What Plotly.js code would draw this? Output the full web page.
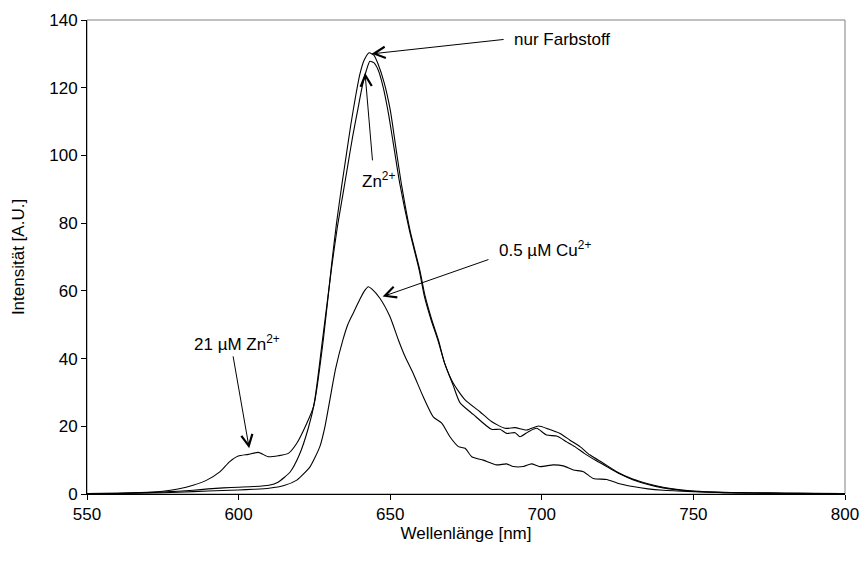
<!DOCTYPE html>
<html>
<head>
<meta charset="utf-8">
<script src="https://cdn.plot.ly/plotly-3.0.1.min.js"></script>
<style>html,body{margin:0;padding:0;background:#fff;}#chart{width:865px;height:565px;}</style>
</head>
<body>
<div id="chart"></div>
<script>
// nur Farbstoff
const wlFarb = [550,560,570,575,580,585,590,595,600,605,610,613,617,620,623,625.2,628,630.7,632.3,634,635.5,637,638.5,640,641.5,643.1,644.6,646,648,650,652,653.8,656.5,659.8,661.5,663.7,665.9,668,670.8,674.7,679.6,683.4,687.9,691.2,695,698.9,702.2,706,709.3,712.6,715.9,720.3,724.7,730,735,740,745,750,760,770,780,790,800];
const intFarb = [0.1,0.2,0.4,0.6,0.8,1.1,1.5,1.8,2.0,2.2,2.6,3.5,6.5,11.5,19.5,27.8,46,68,80,91,100,109,117,124,128.3,130.3,129.6,127,121.5,113.5,101.5,91,78,66,58.5,51.5,45.5,38.5,32.7,27.8,24.3,21.4,19.4,19.6,18.9,20.1,19.2,17.9,15.9,14.0,11.5,9.1,6.6,4.4,3.0,2.0,1.3,0.9,0.5,0.3,0.2,0.15,0.1];

// 21 µM Zn2+
const wlZn = [550,560,570,575,580,585,589.5,593.9,597,599.9,603.2,606.5,609.8,613.1,616.4,619.2,622.5,624.7,627.6,630.7,632.6,634.5,636,637.6,639.2,640.7,642.1,643.3,644.6,646,647.6,649.4,651.3,653.2,656.3,659.6,661.3,663.5,665.7,668,670.8,673,677.4,683.4,686.2,688.4,691.2,692.8,695.6,698.3,701.6,704.9,708.2,710.9,714,718,722,726,730,735,740,745,750,760,770,780,800];
const intZn = [0.1,0.2,0.5,0.8,1.5,2.6,4.1,6.6,9.5,11.2,11.7,12.3,11.0,11.3,12.0,15.0,20.9,25.8,45,67,79,89,97,105.5,113,120,125,127.8,127.4,125.3,120.5,112.5,102,91.5,78,66,58.3,51.4,45.5,38.5,32,27,23.5,19.1,19.1,17.9,18.1,16.9,18.4,19.4,17.4,17.1,15.4,14.0,12.0,9.8,7.8,5.8,4.2,2.8,1.8,1.2,0.8,0.4,0.3,0.2,0.1];

// 0.5 µM Cu2+
const wlCu = [550,560,570,580,590,600,605,610,615,619.2,621.5,623.6,626.8,628.5,630.1,632,634.4,636,637.8,640,641.5,642.8,644,646.6,649.9,652.7,654.9,657.6,660.9,664.2,667,669.7,672.5,674.7,676.9,680.7,685.1,688.4,690.6,693.9,696.6,699.4,703.8,707.1,710.4,713.7,717,721.4,725,730,735,740,750,760,780,800];
const intCu = [0.1,0.15,0.3,0.5,0.9,1.2,1.4,1.7,2.5,4.1,6.0,8.1,14.0,20,27.8,37,45.5,50,53.4,57.5,60,61.2,60.5,57.8,52.4,45.5,40.6,35.6,28.7,22.8,20.9,16.9,14.0,13.5,11.0,10.0,8.6,8.9,8.1,8.1,8.9,8.1,8.6,8.3,7.1,6.6,4.6,4.3,3.2,2.2,1.5,1.1,0.7,0.4,0.2,0.1];

const xTicks = [550,600,650,700,750,800];
const yTicks = [0,20,40,60,80,100,120,140];

const FONT = 'Liberation Sans, Arial, sans-serif';
const lineStyle = {color:'#000000', width:1.1, shape:'spline', smoothing:0.6};

const traces = [
  {x: wlFarb, y: intFarb, name:'nur Farbstoff', mode:'lines', line: lineStyle},
  {x: wlZn, y: intZn, name:'21 µM Zn2+', mode:'lines', line: lineStyle},
  {x: wlCu, y: intCu, name:'0.5 µM Cu2+', mode:'lines', line: lineStyle}
];

function arrow(hx, hy, tx, ty){
  return {x:hx, y:hy, ax:tx, ay:ty, xref:'x', yref:'y', axref:'x', ayref:'y',
    text:'', showarrow:true, arrowhead:5, arrowsize:2.2, arrowwidth:1, arrowcolor:'#000'};
}
function label(x, y, txt){
  return {x:x, y:y, xref:'x', yref:'y', text:txt, showarrow:false, xanchor:'left', yanchor:'middle',
    font:{family:FONT, size:17, color:'#000'}};
}

const layout = {
  width:865, height:565,
  margin:{l:87, r:20, t:20, b:71},
  paper_bgcolor:'#fff', plot_bgcolor:'#fff',
  showlegend:false,
  font:{family:FONT, size:17, color:'#000'},
  xaxis:{range:[550,800], tickvals:xTicks, ticktext:xTicks.map(String), ticks:'outside', ticklen:5, tickcolor:'#000',
    showline:true, linecolor:'#000', linewidth:1, showgrid:false, zeroline:false,
    title:{text:'Wellenlänge [nm]', font:{family:FONT, size:17}, standoff:3}},
  yaxis:{range:[0,140], tickvals:yTicks, ticktext:yTicks.map(String), ticks:'outside', ticklen:5, tickcolor:'#000',
    showline:true, linecolor:'#000', linewidth:1, showgrid:false, zeroline:false,
    title:{text:'Intensität [A.U.]', font:{family:FONT, size:17}, standoff:20}},
  shapes:[{type:'rect', xref:'paper', yref:'paper', x0:0, x1:1, y0:0, y1:1, line:{color:'#808080', width:1}, layer:'below'}],
  annotations:[
    arrow(643.9, 130.0, 687.9, 134.3),
    label(690.2, 134.1, 'nur Farbstoff'),
    arrow(641.7, 124.4, 644.2, 98.1),
    label(640.0, 92.7, 'Zn<sup>2+</sup>'),
    arrow(647.5, 58.3, 682.9, 69.4),
    label(685.2, 72.4, '0.5 µM Cu<sup>2+</sup>'),
    arrow(603.5, 13.5, 598.1, 41.1),
    label(584.5, 44.6, '21 µM Zn<sup>2+</sup>')
  ]
};

Plotly.newPlot('chart', traces, layout, {displayModeBar:false, staticPlot:true});
</script>
</body>
</html>
